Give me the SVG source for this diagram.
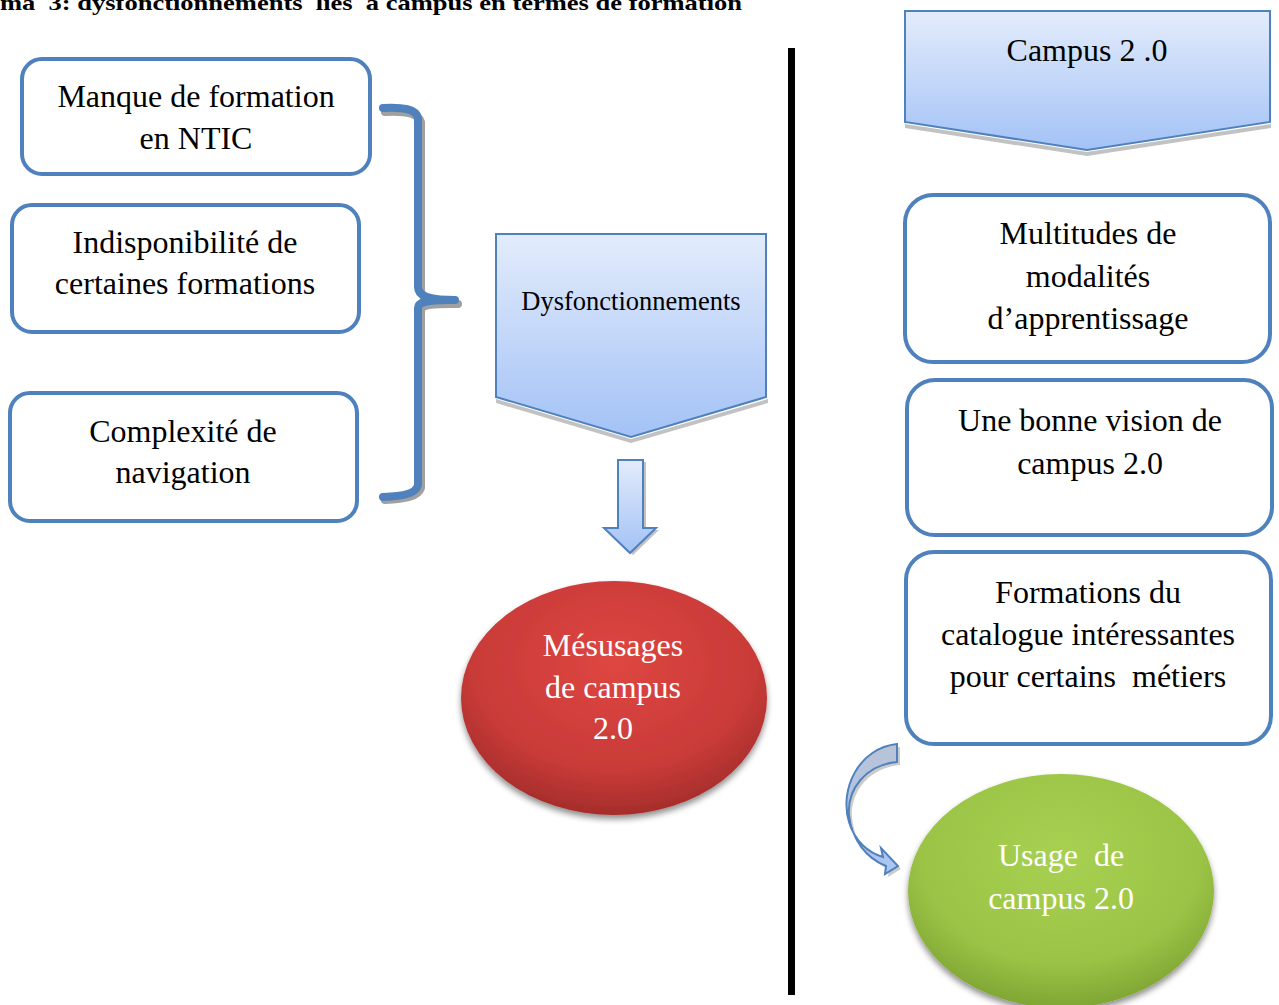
<svg xmlns="http://www.w3.org/2000/svg" width="1279" height="1005" viewBox="0 0 1279 1005">
<defs>
<linearGradient id="blueGrad" x1="0" y1="0" x2="0" y2="1">
<stop offset="0" stop-color="#e3ecfb"/>
<stop offset="1" stop-color="#a3c2f6"/>
</linearGradient>
<linearGradient id="curveGrad" x1="0" y1="0" x2="0" y2="1">
<stop offset="0" stop-color="#b9c3d6"/>
<stop offset="1" stop-color="#a8c6f6"/>
</linearGradient>
<radialGradient id="redGrad" cx="0.5" cy="0.35" r="0.65">
<stop offset="0" stop-color="#de4641"/>
<stop offset="0.7" stop-color="#c93b38"/>
<stop offset="1" stop-color="#a52d2b"/>
</radialGradient>
<radialGradient id="greenGrad" cx="0.5" cy="0.35" r="0.65">
<stop offset="0" stop-color="#a8d052"/>
<stop offset="0.7" stop-color="#9bc446"/>
<stop offset="1" stop-color="#7fa533"/>
</radialGradient>
<filter id="soft" x="-10%" y="-10%" width="120%" height="125%">
<feGaussianBlur in="SourceAlpha" stdDeviation="3"/>
<feOffset dx="0" dy="4" result="b"/>
<feComponentTransfer><feFuncA type="linear" slope="0.45"/></feComponentTransfer>
<feMerge><feMergeNode/><feMergeNode in="SourceGraphic"/></feMerge>
</filter>
</defs>
<style>
.box{fill:#ffffff;stroke:#4f81bd;stroke-width:4}
.shape{fill:url(#blueGrad);stroke:#4f81bd;stroke-width:2}
.shadow{fill:#a8a8a8}
.t{font-family:"Liberation Serif","Times New Roman",serif;font-size:32px;fill:#000;text-anchor:middle;white-space:pre}
.tw{font-family:"Liberation Serif","Times New Roman",serif;font-size:32px;fill:#ffffff;text-anchor:middle;white-space:pre}
.brace{fill:none;stroke:#4f81bd;stroke-width:8;stroke-linecap:round;stroke-linejoin:round}
.braceS{fill:none;stroke:#a0a0a0;stroke-width:8;stroke-linecap:round;stroke-linejoin:round}
</style>
<rect width="1279" height="1005" fill="#ffffff"/>
<text x="0" y="10" font-family="Liberation Serif, Times New Roman, serif" font-weight="bold" font-size="21" textLength="742" lengthAdjust="spacingAndGlyphs" style="white-space:pre">ma  3: dysfonctionnements  liés  à campus en termes de formation</text>

<g id="connectors">
<path class="braceS" d="M385 112 C405 111 418 113 421 122 L421 290 C421 298 430 304 458 304 M421 311 C421 305 432 304 450 304 M421 311 L421 488 C418 497 405 499 385 500"/>
<path class="brace" d="M383 108 C403 107 416 109 418 118 L418 287 C418 295 426 300 455 300 M418 308 C418 302 428 300 448 300 M418 308 L418 485 C416 494 403 496 383 497"/>
<path d="M621 462 L646 462 L646 530 L659 530 L633 555 L607 530 L621 530 Z" class="shadow" opacity="0.7"/>
<path d="M618 460 L643 460 L643 528 L656 528 L630 553 L604 528 L618 528 Z" class="shape"/>
<rect x="788" y="48" width="7" height="947" fill="#000"/>
<path d="M900 747 C862 751 842 792 852 825 C858 845 872 856 886 860 L884 851 L901 869 L888 877 L889 869 C869 861 855 843 852 818 C850 793 868 768 900 765 Z" class="shadow" opacity="0.6"/>
<path d="M897 744 C859 748 839 789 849 822 C855 842 869 853 883 857 L881 848 L898 866 L885 874 L886 866 C866 858 852 840 849 815 C847 790 865 765 897 762 Z" fill="url(#curveGrad)" stroke="#4f81bd" stroke-width="2"/>
</g>

<g id="n1">
<rect class="box" x="22" y="59" width="348" height="115" rx="20"/>
<text class="t" x="196" y="107">Manque de formation</text>
<text class="t" x="196" y="149">en NTIC</text>
</g>
<g id="n2">
<rect class="box" x="12" y="205" width="347" height="127" rx="20"/>
<text class="t" x="185" y="253">Indisponibilité de</text>
<text class="t" x="185" y="294">certaines formations</text>
</g>
<g id="n3">
<rect class="box" x="10" y="393" width="347" height="128" rx="20"/>
<text class="t" x="183" y="442">Complexité de</text>
<text class="t" x="183" y="483">navigation</text>
</g>
<g id="n4">
<path class="shadow" d="M496 399 L631 439 L768 399 L768 403 L631 443 L496 403 Z" opacity="0.7"/>
<path class="shape" d="M496 234 L766 234 L766 397 L631 437 L496 397 Z"/>
<text class="t" x="631" y="310" style="font-size:26.5px">Dysfonctionnements</text>
</g>
<g id="n5">
<ellipse cx="614" cy="698" rx="153" ry="117" fill="url(#redGrad)" filter="url(#soft)"/>
<text class="tw" x="613" y="656">Mésusages</text>
<text class="tw" x="613" y="698">de campus</text>
<text class="tw" x="613" y="739">2.0</text>
</g>
<g id="n6">
<path class="shadow" d="M905 124 L1087 152 L1271 124 L1271 128 L1087 156 L905 128 Z" opacity="0.7"/>
<path class="shape" d="M905 11 L1270 11 L1270 122 L1087 150 L905 122 Z"/>
<text class="t" x="1087" y="61">Campus 2 .0</text>
</g>
<g id="n7">
<rect class="box" x="905" y="195" width="365" height="167" rx="28"/>
<text class="t" x="1088" y="244">Multitudes de</text>
<text class="t" x="1088" y="287">modalités</text>
<text class="t" x="1088" y="329">d’apprentissage</text>
</g>
<g id="n8">
<rect class="box" x="907" y="380" width="365" height="155" rx="28"/>
<text class="t" x="1090" y="431">Une bonne vision de</text>
<text class="t" x="1090" y="474">campus 2.0</text>
</g>
<g id="n9">
<rect class="box" x="906" y="552" width="365" height="192" rx="28"/>
<text class="t" x="1088" y="603">Formations du</text>
<text class="t" x="1088" y="645">catalogue intéressantes</text>
<text class="t" x="1088" y="687">pour certains  métiers</text>
</g>
<g id="n10">
<ellipse cx="1061" cy="891" rx="153" ry="117" fill="url(#greenGrad)" filter="url(#soft)"/>
<text class="tw" x="1061" y="866">Usage  de</text>
<text class="tw" x="1061" y="909">campus 2.0</text>
</g>
</svg>
